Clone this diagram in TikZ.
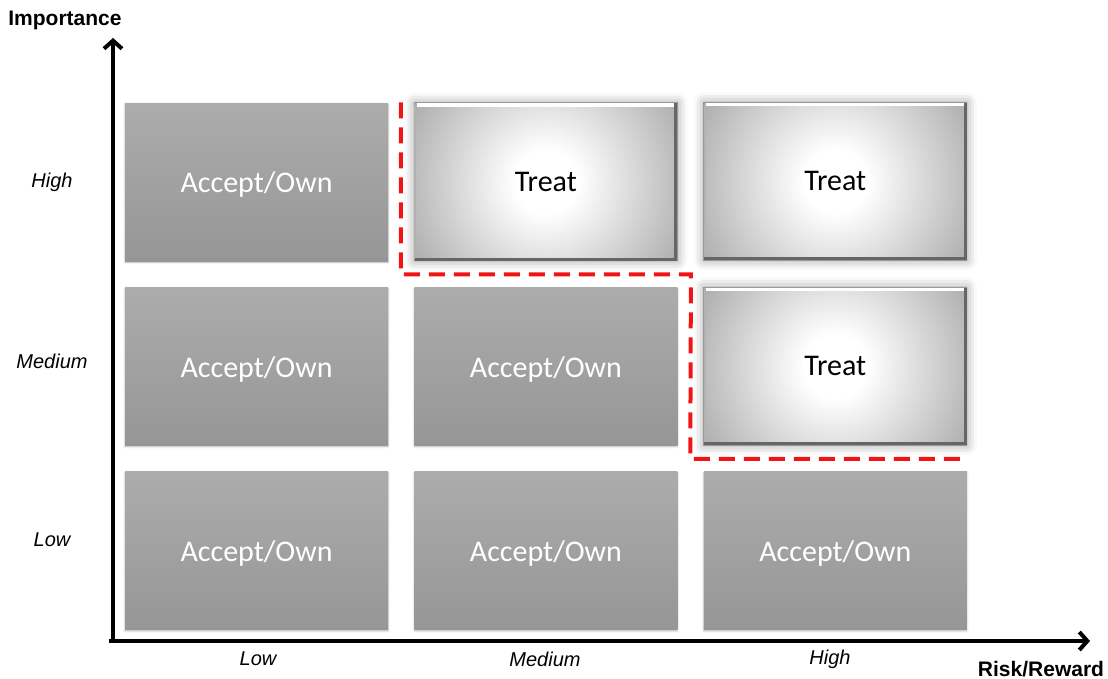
\documentclass[tikz,border=0pt]{standalone}
\usepackage{fontspec}
\setmainfont{Carlito}
\newfontfamily\arialfont{Liberation Sans}
\usepackage{tikz}
\usetikzlibrary{positioning, arrows.meta, shadows.blur}

\definecolor{accgray}{RGB}{172,172,172}
\definecolor{accdark}{RGB}{150,150,150}
\definecolor{treatedge}{RGB}{170,170,170}
\definecolor{dashred}{RGB}{240,20,20}
\pgfdeclareradialshading{treatglow}{\pgfpoint{0bp}{0bp}}{color(0bp)=(white); color(5bp)=(white); color(25bp)=(treatedge); color(50bp)=(treatedge)}

\tikzset{
  accbox/.style = { minimum width = 263pt, minimum height = 158pt, inner sep = 0pt, text depth = 0pt,
    top color = accgray, bottom color = accdark, text = white,
    font = \fontsize{30}{34}\selectfont,
    blur shadow = {shadow xshift=0pt,shadow yshift=-1pt,shadow blur radius=2pt,shadow opacity=30} },
  treatbox/.style = { minimum width = 263pt, minimum height = 158pt, inner sep = 0pt, text depth = 0pt,
    fill = treatedge, text = black, draw = black!40, line width = 1pt,
    font = \fontsize{30}{34}\selectfont,
    path picture = { \shade [shading = treatglow] (path picture bounding box.center) circle (158pt); },
    blur shadow = {shadow xshift=0pt,shadow yshift=0pt,shadow blur radius=10pt,shadow opacity=40} },
  axislabel/.style = { font = \arialfont\bfseries\fontsize{21}{25}\selectfont },
  levellabel/.style = { font = \arialfont\itshape\fontsize{20}{24}\selectfont }
}

\begin{document}
\begin{tikzpicture}[x = 1pt, y = 1pt, node distance = 26pt]
  \useasboundingbox (0,0) rectangle (1108,679);

  % grid of cells, named column-row
  \node [accbox] (low-low) at (256.5,128) { Accept/Own };
  \node [accbox, right = of low-low] (med-low) { Accept/Own };
  \node [accbox, right = of med-low] (high-low) { Accept/Own };
  \node [accbox, above = of low-low] (low-med) { Accept/Own };
  \node [accbox, above = of med-low] (med-med) { Accept/Own };
  \node [treatbox, above = of high-low] (high-med) { Treat };
  \node [accbox, above = of low-med] (low-high) { Accept/Own };
  \node [treatbox, above = of med-med] (med-high) { Treat };
  \node [treatbox, above = of high-med] (high-high) { Treat };

  % bevel edges of the treat cells
  \foreach \cell in {med-high, high-high, high-med} {
    \draw [white, line width = 3.5pt] ([shift = {(3,-2.5)}]\cell.north west) -- ([shift = {(-3,-2.5)}]\cell.north east);
    \draw [black!30, line width = 2pt] ([shift = {(1.5,-3)}]\cell.north west) -- ([shift = {(1.5,2)}]\cell.south west);
    \draw [black!60, line width = 3pt] ([shift = {(-2,-1)}]\cell.north east) -- ([shift = {(-2,2)}]\cell.south east)
      -- ([shift = {(1,2)}]\cell.south west);
  }

  % axes
  \coordinate (origin) at (113,38);
  \coordinate (ytop) at (113,641);
  \coordinate (xend) at (1090,38);
  \draw [line width = 4pt, -{Straight Barb[length = 8pt, width = 18pt]}] ([yshift = -2pt]origin) -- (ytop);
  \draw [line width = 4pt, -{Straight Barb[length = 8pt, width = 18pt]}] ([xshift = -4pt]origin) -- (xend);
  \node [axislabel] (importance) at (65,659) { Importance };
  \node [axislabel] (riskreward) at (1041,10) { Risk/Reward };

  % level labels
  \node [levellabel] (row-high) at (52,497) { High };
  \node [levellabel] (row-med) at (52,318) { Medium };
  \node [levellabel] (row-low) at (52,139) { Low };
  \node [levellabel] (col-low) at (258,20) { Low };
  \node [levellabel] (col-med) at (545,20) { Medium };
  \node [levellabel] (col-high) at (830,20) { High };

  % treat region
  \draw [dashred, line width = 4pt, dash pattern = on 16pt off 9pt]
    ([xshift = -13pt]med-high.north west) -- ([xshift = -13pt, yshift = -13pt]med-high.south west)
    -- ([xshift = 13pt, yshift = -13pt]med-high.south east) -- ([xshift = -13pt, yshift = -13pt]high-med.south west)
    -- ([yshift = -13pt]high-med.south east);
\end{tikzpicture}
\end{document}
